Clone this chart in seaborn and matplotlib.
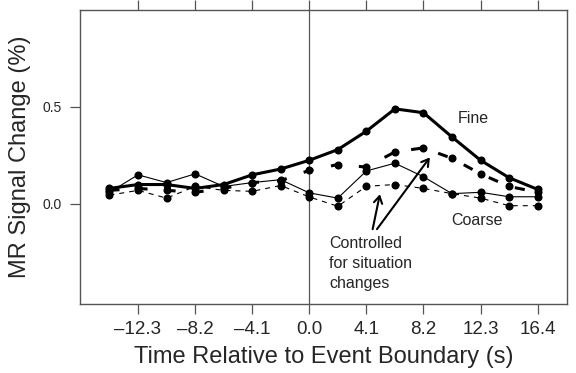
import matplotlib
matplotlib.use("Agg")
import matplotlib.pyplot as plt
import seaborn as sns
import pandas as pd

# ---- data ----
times = [-14.35, -12.3, -10.25, -8.2, -6.15, -4.1, -2.05, 0.0,
         2.05, 4.1, 6.15, 8.2, 10.25, 12.3, 14.35, 16.4]
fine = [0.08, 0.10, 0.10, 0.08, 0.10, 0.15, 0.18, 0.225,
        0.28, 0.375, 0.49, 0.47, 0.345, 0.225, 0.135, 0.075]
coarse = [0.06, 0.15, 0.11, 0.155, 0.09, 0.11, 0.125, 0.057,
          0.03, 0.17, 0.21, 0.14, 0.053, 0.06, 0.037, 0.037]
fine_ctrl = [0.07, 0.08, 0.07, 0.06, 0.08, 0.11, 0.12, 0.173,
             0.203, 0.19, 0.268, 0.289, 0.235, 0.155, 0.09, 0.06]
coarse_ctrl = [0.045, 0.07, 0.03, 0.09, 0.07, 0.065, 0.095, 0.036,
               -0.012, 0.091, 0.10, 0.08, 0.053, 0.03, -0.009, -0.009]

xticks = [-12.3, -8.2, -4.1, 0.0, 4.1, 8.2, 12.3, 16.4]
xticklabels = ["\u201312.3", "\u20138.2", "\u20134.1", "0.0", "4.1", "8.2", "12.3", "16.4"]
yticks = [0.0, 0.5]
yticklabels = ["0.0", "0.5"]

sns.set_style("white")
plt.rcParams["font.family"] = ["Liberation Sans", "DejaVu Sans"]

fig = plt.figure(figsize=(5.76, 3.73), dpi=100)
ax = fig.add_axes([0.1385, 0.1853, 0.9852 - 0.1385, 0.9735 - 0.1853])

df = pd.DataFrame({"t": times, "fine": fine, "coarse": coarse,
                   "fine_ctrl": fine_ctrl, "coarse_ctrl": coarse_ctrl})

ax.axvline(0, color="#555555", lw=0.9, zorder=0)

common = dict(x="t", data=df, ax=ax, color="black", marker="o",
              mec="black", mew=0, legend=False, clip_on=False)
sns.lineplot(y="coarse_ctrl", lw=0.8, ms=5.8, linestyle=(0, (4.5, 4.5)), **common)
sns.lineplot(y="coarse", lw=0.8, ms=5.8, **common)
sns.lineplot(y="fine_ctrl", lw=2.2, ms=5.8, linestyle=(0, (3.3, 5.9)), **common)
sns.lineplot(y="fine", lw=2.2, ms=5.8, **common)

ax.set_xlim(-16.48, 18.54)
ax.set_ylim(-0.515, 1.0)

ax.set_xticks(xticks)
ax.set_xticklabels(xticklabels, fontsize=13.5)
ax.set_yticks(yticks)
ax.set_yticklabels(yticklabels, fontsize=10)
ax.tick_params(axis="x", which="both", direction="out", length=7, width=0.9,
               color="#555555", top=True, bottom=True, pad=5)
ax.tick_params(axis="y", direction="out", length=7, width=0.9,
               color="#555555", left=True, pad=6)

for s in ax.spines.values():
    s.set_visible(True)
    s.set_color("#555555")
    s.set_linewidth(1.0)

ax.set_xlabel("Time Relative to Event Boundary (s)", fontsize=17, labelpad=6)
ax.set_ylabel("MR Signal Change (%)", fontsize=17, labelpad=8)

ax.text(11.8, 0.44, "Fine", fontsize=11.5, ha="center", va="center")
ax.text(12.04, -0.086, "Coarse", fontsize=11.5, ha="center", va="center")
ax.text(1.45, -0.165, "Controlled\nfor situation\nchanges", fontsize=11.5,
        ha="left", va="top", linespacing=1.42)

arrow = dict(arrowstyle="->,head_length=0.5,head_width=0.3", lw=1.5, color="black",
             shrinkA=0, shrinkB=0)
ax.annotate("", xy=(5.07, 0.05), xytext=(4.55, -0.13), arrowprops=arrow)
ax.annotate("", xy=(8.66, 0.24), xytext=(4.86, -0.13), arrowprops=arrow)

fig.savefig("out.png", dpi=100)
